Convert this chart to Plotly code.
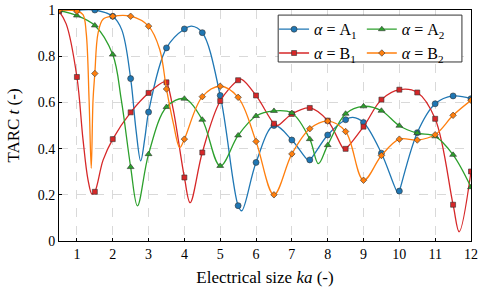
import plotly.graph_objects as go

# marker grid (ka = 0.5 ... 12, step 0.5)
ka = [0.5, 1.0, 1.5, 2.0, 2.5, 3.0, 3.5, 4.0, 4.5, 5.0, 5.5, 6.0,
      6.5, 7.0, 7.5, 8.0, 8.5, 9.0, 9.5, 10.0, 10.5, 11.0, 11.5, 12.0]

A1 = [1.0, 1.0, 1.0, 0.973, 0.703, 0.558, 0.836, 0.918, 0.902, 0.630, 0.153, 0.340,
      0.500, 0.437, 0.351, 0.459, 0.525, 0.513, 0.380, 0.216, 0.469, 0.594, 0.628, 0.616]
B1 = [0.995, 0.710, 0.213, 0.441, 0.557, 0.641, 0.687, 0.275, 0.383, 0.606, 0.696, 0.630,
      0.508, 0.550, 0.576, 0.521, 0.399, 0.495, 0.612, 0.655, 0.643, 0.529, 0.157, 0.301]
A2 = [0.998, 0.976, 0.933, 0.807, 0.320, 0.376, 0.580, 0.616, 0.525, 0.325, 0.457, 0.541,
      0.563, 0.554, 0.441, 0.415, 0.551, 0.583, 0.564, 0.499, 0.467, 0.453, 0.373, 0.233]
B2 = [0.999, 0.995, 0.725, 0.973, 0.973, 0.930, 0.658, 0.441, 0.625, 0.670, 0.622, 0.431,
      0.200, 0.377, 0.486, 0.519, 0.474, 0.263, 0.370, 0.441, 0.437, 0.460, 0.544, 0.609]

# extra curve points read between markers (shape of the smooth curves)
A1_x = [2.25, 2.65, 2.78, 2.9, 4.2, 5.6, 7.45, 8.7, 9.97]
A1_y = [0.915, 0.48, 0.347, 0.45, 0.93, 0.131, 0.350, 0.535, 0.205]
B1_x = [0.70, 1.17, 1.31, 1.42, 1.73, 3.45, 3.69, 4.16, 5.6, 6.6, 8.45, 11.67]
B1_y = [0.94, 0.44, 0.265, 0.203, 0.35, 0.69, 0.568, 0.166, 0.70, 0.50, 0.398, 0.040]
A2_x = [2.24, 2.69, 4.0, 7.74]
A2_y = [0.61, 0.152, 0.616, 0.335]
B2_x = [1.17, 1.26, 1.34, 1.40, 1.45, 1.59, 1.73, 3.31, 3.69, 3.87, 6.5]
B2_y = [0.98, 0.90, 0.61, 0.315, 0.61, 0.90, 0.96, 0.83, 0.51, 0.405, 0.200]

series = [
    ("A", "1", A1, A1_x, A1_y, "#1f77b4", "circle", 6, "legend"),
    ("A", "2", A2, A2_x, A2_y, "#2ca02c", "triangle-up", 6, "legend2"),
    ("B", "1", B1, B1_x, B1_y, "#d62728", "square", 5, "legend"),
    ("B", "2", B2, B2_x, B2_y, "#ff7f0e", "diamond", 5, "legend2"),
]

fig = go.Figure()
FONT = "Liberation Serif"

draw_order = [0, 2, 1, 3]
for i in draw_order:
    letter, sub, vals, ex, ey, col, sym, ms, lg = series[i]
    pts = {}
    for x, y in zip(ka, vals):
        pts[x] = y
    for x, y in zip(ex, ey):
        pts[x] = y
    xs = sorted(pts)
    ys = [pts[x] for x in xs]
    fig.add_trace(go.Scatter(x=xs, y=ys, mode="lines",
                             line=dict(color=col, width=1.3, shape="spline", smoothing=1.0),
                             showlegend=False, hoverinfo="skip"))
    fig.add_trace(go.Scatter(x=ka, y=vals, mode="markers",
                             marker=dict(color=col, symbol=sym, size=ms,
                                         line=dict(color="#333333", width=0.6)),
                             showlegend=False))

for letter, sub, vals, ex, ey, col, sym, ms, lg in series:
    fig.add_trace(go.Scatter(x=[None], y=[None], mode="lines+markers",
                             name=f"<i>α</i> = {letter}<sub>{sub}</sub>",
                             legend=lg,
                             line=dict(color=col, width=1.3),
                             marker=dict(color=col, symbol=sym, size=ms,
                                         line=dict(color="#333333", width=0.6))))

axis_common = dict(showline=True, linecolor="black", linewidth=1, mirror=True,
                   showgrid=True, gridcolor="#d9d9d9", griddash="dash", gridwidth=0.8,
                   zeroline=False, ticks="inside", ticklen=3, tickcolor="black",
                   tickfont=dict(family=FONT, size=14, color="black"))

fig.update_xaxes(range=[0.5, 12], tickvals=list(range(1, 13)),
                 title=dict(text="Electrical size <i>ka</i> (-)",
                            font=dict(family=FONT, size=17, color="black"), standoff=10),
                 **axis_common)
fig.update_yaxes(range=[0, 1], tickvals=[0, 0.2, 0.4, 0.6, 0.8, 1],
                 ticktext=["0", "0.2", "0.4", "0.6", "0.8", "1"],
                 title=dict(text="TARC <i>t</i> (-)",
                            font=dict(family=FONT, size=17, color="black"), standoff=13),
                 **axis_common)

leg_common = dict(orientation="v", xanchor="left", yanchor="top",
                  bgcolor="rgba(0,0,0,0)", borderwidth=0,
                  font=dict(family=FONT, size=16, color="black"),
                  itemwidth=30, tracegroupgap=0)

fig.update_layout(
    width=485, height=291,
    margin=dict(l=59, r=14, t=10, b=50, autoexpand=False),
    plot_bgcolor="white", paper_bgcolor="white",
    font=dict(family=FONT, color="black"),
    legend=dict(x=0.522, y=0.99, **leg_common),
    legend2=dict(x=0.735, y=0.99, **leg_common),
    shapes=[dict(type="rect", xref="paper", yref="paper",
                 x0=0.532, x1=0.978, y0=0.775, y1=0.978,
                 line=dict(color="#333333", width=1), fillcolor="white", layer="above")],
)

fig.write_html("out.html", config={"displayModeBar": False},
               post_script="document.body.style.margin='0';document.body.style.overflow='hidden';")
